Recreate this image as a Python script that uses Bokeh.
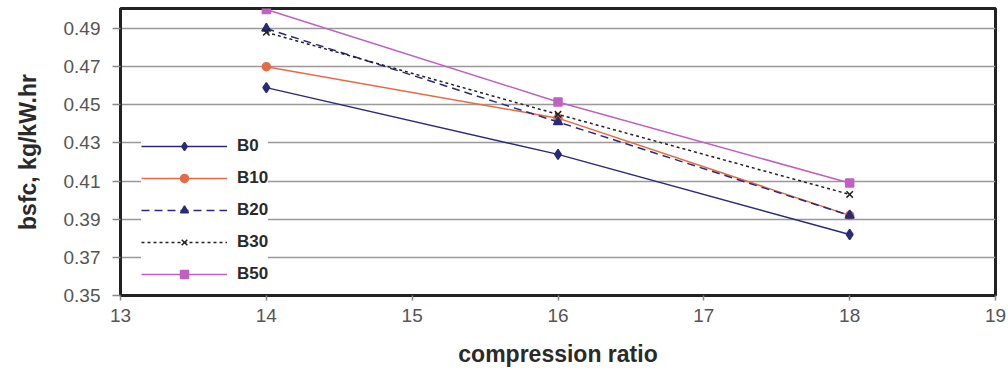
from bokeh.plotting import figure
from bokeh.models import FixedTicker, Legend, LegendItem, Range1d
from bokeh.embed import file_html
from bokeh.resources import INLINE

cr = [14, 16, 18]
B0 = [0.459, 0.424, 0.382]
B10 = [0.470, 0.443, 0.392]
B20 = [0.490, 0.441, 0.392]
B30 = [0.488, 0.445, 0.403]
B50 = [0.500, 0.4515, 0.409]
x_ticks = [13, 14, 15, 16, 17, 18, 19]
y_ticks = [0.35, 0.37, 0.39, 0.41, 0.43, 0.45, 0.47, 0.49]

p = figure(width=1008, height=372, output_backend="svg", toolbar_location=None,
           x_range=Range1d(13, 19), y_range=Range1d(0.35, 0.5005),
           min_border_left=120, min_border_right=13, min_border_top=8, min_border_bottom=77)
p.background_fill_color = "white"
p.border_fill_color = "white"
p.outline_line_color = "#222222"
p.outline_line_width = 3

p.xgrid.grid_line_color = None
p.ygrid.grid_line_color = "#999999"
p.ygrid.grid_line_width = 1.5
p.xaxis.ticker = FixedTicker(ticks=x_ticks)
p.yaxis.ticker = FixedTicker(ticks=y_ticks)
p.yaxis.formatter.use_scientific = False
for ax in (p.xaxis, p.yaxis):
    ax.axis_line_color = "#222222"
    ax.axis_line_width = 3
    ax.major_tick_line_color = "#888888"
    ax.major_tick_line_width = 1.5
    ax.major_tick_in = 0
    ax.minor_tick_line_color = None
    ax.major_label_text_font = "Liberation Sans"
    ax.major_label_text_font_size = "19px"
    ax.major_label_text_color = "#555555"
    ax.axis_label_text_font = "Liberation Sans"
    ax.axis_label_text_font_style = "bold"
    ax.axis_label_text_font_size = "23px"
    ax.axis_label_text_color = "#2a2a2a"
p.yaxis.major_tick_out = 8
p.xaxis.major_tick_out = 5
p.xaxis.axis_label = "compression ratio"
p.yaxis.axis_label = "bsfc, kg/kW.hr"
p.xaxis.major_label_standoff = 8
p.yaxis.major_label_standoff = 12
p.xaxis.axis_label_standoff = 16
p.yaxis.axis_label_standoff = 20

series = [
    ("B0", B0, "#2a2a7a", "solid", "diamond", 10),
    ("B10", B10, "#e46c45", "solid", "circle", 8),
    ("B20", B20, "#2a2a7a", "8 5", "triangle", 9),
    ("B30", B30, "#222222", "3 3", "x", 9),
    ("B50", B50, "#c060c0", "solid", "square", 8),
]
items = []
for name, ys, col, dash, mk, sz in series:
    r1 = p.line(cr, ys, line_color=col, line_width=1.5, line_dash=dash)
    r2 = p.scatter(cr, ys, marker=mk, size=sz, fill_color=col, line_color=col, line_width=1.5)
    items.append(LegendItem(label=name, renderers=[r1, r2]))

legend = Legend(items=items, location=(21, 11), orientation="vertical",
                glyph_width=86, glyph_height=20, spacing=12, padding=4, margin=0,
                label_standoff=10, label_text_font="Liberation Sans",
                label_text_font_style="bold", label_text_font_size="17px",
                label_text_color="#2a2a2a", border_line_color=None,
                background_fill_color="white", background_fill_alpha=1.0)
p.add_layout(legend)

open("out.html", "w").write(file_html(p, INLINE))
